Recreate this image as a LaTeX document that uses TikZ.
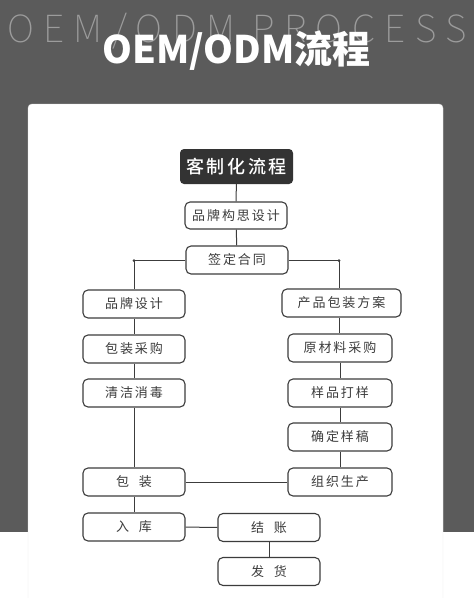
\documentclass[tikz,border=0pt]{standalone}
\usepackage{fontspec}
\newfontfamily\cjk{Noto Sans CJK SC}[LetterSpace=15]
\newfontfamily\cjkmid{Noto Sans CJK SC Medium}[LetterSpace=15]
\newfontfamily\cjkhead{Noto Sans CJK SC}
\newfontfamily\cjkthin{Noto Sans CJK SC Thin}[LetterSpace=25]
\definecolor{band}{HTML}{5B5B5B}
\definecolor{ghost}{HTML}{9C9C9C}
\definecolor{ink}{HTML}{3C3C3C}
\definecolor{headfill}{HTML}{333333}
\newcommand{\gap}{\hspace{0.75em}}
\begin{document}
\begin{tikzpicture}[x=1pt,y=-1pt,
    stepbox/.style={draw=ink,line width=1.1pt,rounded corners=5pt,
      minimum width=102pt,minimum height=28pt,inner sep=0pt,text=ink,
      font=\cjk\fontsize{13}{13}\selectfont},
    headbox/.style={fill=headfill,rounded corners=4pt,minimum width=113pt,
      minimum height=35pt,inner sep=0pt,text=white,
      font=\cjkmid\fontsize{18}{18}\selectfont},
    link/.style={draw=ink,line width=1pt}]
  \useasboundingbox (0,0) rectangle (474,598);
  \begin{scope}
    \clip (0,0) rectangle (474,598);
    \fill[band] (0,0) rectangle (474,532);
    \filldraw[fill=white,draw=black!10,rounded corners=4pt] (28,104) rectangle (443,610);
  \end{scope}
  \node[anchor=base,text=ghost,font=\cjkthin\fontsize{37.5}{37.5}\selectfont] (ghost) at (237,42) {OEM/ODM PROCESS};
  \node[anchor=base,text=white,font=\cjkhead\bfseries\fontsize{38}{38}\selectfont] (title) at (236.5,63) {OEM/ODM流程};
  \node[headbox] (custom) at (236.5,166.5) {客制化流程};
  \node[stepbox,minimum height=27pt] (brandidea) at (236,215.5) {品牌构思设计};
  \node[stepbox] (contract) at (237,260) {签定合同};
  \node[stepbox] (brand) at (134,304) {品牌设计};
  \node[stepbox,minimum width=119pt] (packplan) at (341.5,303) {产品包装方案};
  \node[stepbox] (packbuy) at (134,349) {包装采购};
  \node[stepbox,minimum width=104pt] (material) at (340,348) {原材料采购};
  \node[stepbox] (clean) at (134,393) {清洁消毒};
  \node[stepbox,minimum width=104pt] (sample) at (340,393) {样品打样};
  \node[stepbox,minimum width=104pt] (confirm) at (340,437) {确定样稿};
  \node[stepbox] (pack) at (134,482) {包\gap 装};
  \node[stepbox,minimum width=104pt] (produce) at (340,482) {组织生产};
  \node[stepbox] (store) at (134,527) {入\gap 库};
  \node[stepbox] (settle) at (269,527.5) {结\gap 账};
  \node[stepbox] (ship) at (269,571.5) {发\gap 货};
  \coordinate (lj) at (134,260.5);
  \coordinate (rj) at (339,260.5);
  \begin{scope}[link]
    \draw (custom) to (brandidea);
    \draw (brandidea) to (contract);
    \draw (contract.west |- lj) to (lj) to (brand);
    \draw (contract.east |- rj) to (rj) to (rj |- packplan.north);
    \draw (brand) to (packbuy);
    \draw (packbuy) to (clean);
    \draw (clean) to (pack);
    \draw (pack) to (store);
    \draw (packplan.south -| rj) to (material.north -| rj);
    \draw (material) to (sample);
    \draw (sample) to (confirm);
    \draw (confirm) to (produce);
    \draw (pack) to (produce);
    \draw (store) to (settle);
    \draw (settle) to (ship);
  \end{scope}
  \fill[ink] (lj) circle (1.5) (rj) circle (1.5);
\end{tikzpicture}
\end{document}
